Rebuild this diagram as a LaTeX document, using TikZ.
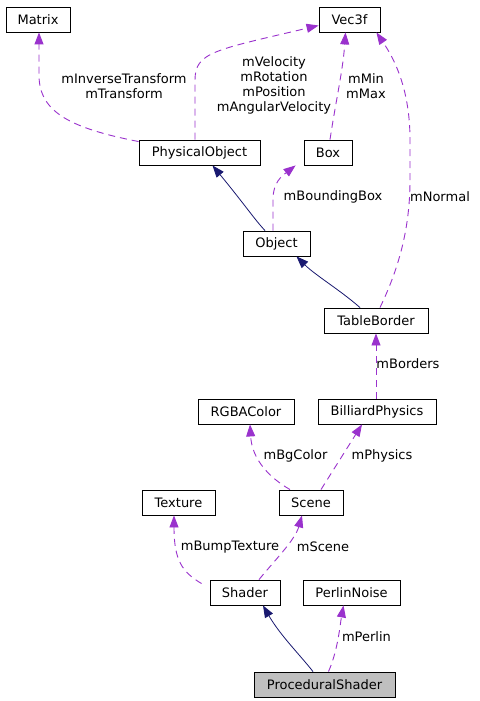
\documentclass[tikz,border=0pt]{standalone}
\usepackage{fontspec}
\setmainfont{DejaVu Sans}
\usetikzlibrary{arrows.meta}
\definecolor{depc}{HTML}{9A32CD}
\definecolor{inhc}{HTML}{191970}
\definecolor{hlc}{HTML}{BFBFBF}
\begin{document}
\begin{tikzpicture}[x=1pt,y=-1pt,
  cls/.style={draw=black,line width=0.9pt,minimum height=25pt,inner sep=0pt,font=\fontsize{13}{15}\selectfont},
  dep/.style={draw=depc,line width=0.9pt,dash pattern=on 7pt off 5pt,-{Triangle[length=12pt,width=9pt]}},
  inh/.style={draw=inhc,line width=0.8pt,-{Triangle[length=12pt,width=9pt]}},
  lab/.style={font=\fontsize{13}{15}\selectfont,align=center,inner sep=0pt}]
\useasboundingbox (0,0) rectangle (479,701);
\fill[white] (0,0) rectangle (479,701);
% classes
\node[cls,minimum width=64pt] (mat) at (38,19.5) {Matrix};
\node[cls,minimum width=61pt] (vec) at (349.5,19.5) {Vec3f};
\node[cls,minimum width=121pt] (po) at (199.5,152.5) {PhysicalObject};
\node[cls,minimum width=48pt] (box) at (328,152.5) {Box};
\node[cls,minimum width=67pt] (obj) at (276.5,243.5) {Object};
\node[cls,minimum width=104pt] (tb) at (376,320.5) {TableBorder};
\node[cls,minimum width=96pt] (rgba) at (246,411.5) {RGBAColor};
\node[cls,minimum width=118pt] (bp) at (377,411.5) {BilliardPhysics};
\node[cls,minimum width=73pt] (tex) at (178.5,502.5) {Texture};
\node[cls,minimum width=64pt] (scene) at (311,502.5) {Scene};
\node[cls,minimum width=70pt] (shader) at (245,592.5) {Shader};
\node[cls,minimum width=97pt] (pn) at (351.5,592.5) {PerlinNoise};
\node[cls,minimum width=141pt,fill=hlc] (ps) at (324.5,684.5) {ProceduralShader};
% edges
\draw[dep] ([yshift=-2pt]po.north west) .. controls (70,128) and (39,112) .. (39,75) -- ([xshift=1pt]mat.south);
\draw[dep] ([xshift=-4.5pt]po.north) -- (195,80) .. controls (195,52) and (215,50) .. ([yshift=-6pt]vec.west);
\draw[dep] ([xshift=2pt]box.north) .. controls (336,100) and (343,70) .. ([xshift=-4pt]vec.south);
\draw[dep] ([xshift=-3.5pt]obj.north) -- (273,200) .. controls (273,182) and (282,176) .. ([xshift=-8pt]box.south west);
\draw[inh] ([xshift=-11.5pt]obj.north) .. controls (255,220) and (245,205) .. ([xshift=13pt]po.south);
\draw[dep] ([xshift=4pt]tb.north) .. controls (398,270) and (410,230) .. (410,180) -- (410,140) .. controls (410,90) and (395,60) .. ([xshift=-4pt]vec.south east);
\draw[inh] ([xshift=-16pt]tb.north) .. controls (340,290) and (315,275) .. ([xshift=20pt]obj.south);
\draw[dep] ([xshift=-1pt]bp.north) -- (tb.south);
\draw[dep] ([xshift=-21pt]scene.north) .. controls (270,478) and (252,460) .. ([xshift=4pt]rgba.south);
\draw[dep] ([xshift=10pt]scene.north) -- ([xshift=-15pt]bp.south);
\draw[dep] ([xshift=-8pt,yshift=-4pt]shader.north west) .. controls (182,572) and (174,560) .. ([xshift=-4.5pt]tex.south);
\draw[dep] ([xshift=14pt]shader.north) .. controls (275,560) and (295,540) .. ([xshift=-9pt]scene.south);
\draw[inh] ([xshift=-11.5pt]ps.north) .. controls (300,655) and (280,635) .. ([xshift=18pt]shader.south);
\draw[dep] ([xshift=4pt]ps.north) .. controls (338,650) and (340,625) .. ([xshift=-8pt]pn.south);
% labels
\node[lab] (l1) at (124,86) {mInverseTransform\\mTransform};
\node[lab] (l2) at (274,85.5) {mVelocity\\mRotation\\mPosition\\mAngularVelocity};
\node[lab] (l3) at (366,86) {mMin\\mMax};
\node[lab] (l4) at (333,197) {mBoundingBox};
\node[lab] (l5) at (440,197) {mNormal};
\node[lab] (l6) at (408,364) {mBorders};
\node[lab] (l7) at (295.5,456) {mBgColor};
\node[lab] (l8) at (382,456) {mPhysics};
\node[lab] (l9) at (230,547) {mBumpTexture};
\node[lab] (l10) at (323,547) {mScene};
\node[lab] (l11) at (366.5,637) {mPerlin};
\end{tikzpicture}
\end{document}
